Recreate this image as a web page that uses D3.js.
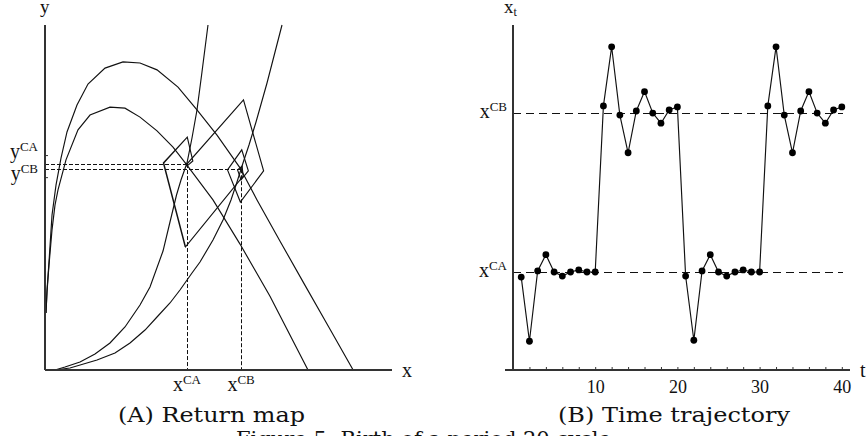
<!DOCTYPE html>
<html><head><meta charset="utf-8">
<script src="https://cdn.jsdelivr.net/npm/d3@7"></script>
<style>body{margin:0;background:#fff}svg{display:block}</style>
</head><body><svg id="c" width="866" height="436"></svg>
<script>
// ---------- data (panel A: return map, x/y in model units) ----------
const upperHump = [[0.29,16.5],[0.58,23.2],[1.15,31.3],[2.02,44.9],[3.17,53.6],[4.61,61.4],[6.34,69.0],[9.22,76.8],[12.39,82.9],[17.29,87.5],[22.48,89.3],[27.38,89.0],[32.28,87.0],[38.33,82.0],[43.80,75.4],[49.57,68.1],[56.20,58.6],[61.1,49.3],[67.7,37.4],[74.9,24.6],[82.1,11.9],[88.8,0]];
const lowerHump = [[0.29,16.5],[0.58,22.6],[1.15,30.4],[2.02,40.6],[2.88,47.8],[3.75,52.2],[6.05,60.9],[9.51,69.6],[12.97,73.9],[18.73,76.2],[23.05,75.9],[27.38,73.3],[32.28,69.3],[36.89,64.6],[40.92,59.4],[48.41,49.3],[56.20,36.5],[64.84,21.4],[75.79,0]];
const curveA = [[2.88,0],[5.76,0.87],[10.09,2.32],[14.41,4.64],[18.73,7.83],[23.05,12.46],[27.38,18.84],[30.26,24.06],[34.01,34.49],[36.02,42.90],[37.90,50.72],[39.19,55.07],[40.92,59.99],[42.36,67.25],[43.80,75.36],[45.24,86.38],[46.97,100]];
const curveB = [[2.88,0],[7.20,0.58],[14.99,2.90],[20.17,4.93],[24.50,7.83],[28.82,11.59],[32.28,15.36],[36.02,19.42],[38.90,23.19],[42.36,28.12],[44.67,31.30],[48.41,37.68],[51.30,43.48],[53.60,49.28],[55.33,54.49],[57.06,60.0],[58.79,65.22],[60.81,71.88],[63.98,83.19],[68.30,100]];
const xCA = 40.9, xCB = 56.5, yCA = 59.7, yCB = 58.2;
const yTickVals = [62.3, 55.9];
// trajectory (shared x_t values; y_t for the return map)
const tVals = d3.range(1, 41);
const xt = [40.4,34.1,41.0,42.6,40.9,40.5,40.9,41.1,40.9,40.9,57.2,63.0,56.3,52.6,56.7,58.6,56.5,55.5,56.8,57.1,
            40.5,34.2,41.0,42.6,40.9,40.5,40.9,41.1,40.9,40.9,57.2,63.0,56.3,52.6,56.7,58.6,56.5,55.5,56.8,57.1];
const yt = [35.7,60.0,67.5,60.6,59.1,60.0,59.4,59.9,59.6,59.7,78.3,57.7,48.7,58.0,63.8,57.7,55.1,58.0,59.1,56.2,
            35.7,60.0,67.5,60.6,59.1,60.0,59.4,59.9,59.6,59.7,78.3,57.7,48.7,58.0,63.8,57.7,55.1,58.0,59.1,56.2];
const tTicks = d3.range(2, 41, 2);
const tLabels = [10, 20, 30, 40];

// ---------- drawing ----------
const svg = d3.select('#c');
svg.append('rect').attr('width',866).attr('height',436).attr('fill','#fff');
const ink = '#111';
const serif = "'Liberation Serif','DejaVu Serif',serif";
const r5 = v => Math.round(v) + 0.5;

function supLabel(x, y, base, sup, anchor, size, supSize, raise, sub) {
  const t = svg.append('text').attr('x', x).attr('y', y).attr('text-anchor', anchor)
    .attr('font-family', serif).attr('fill', ink).attr('font-size', size);
  t.append('tspan').text(base);
  t.append('tspan').attr('font-size', supSize).attr('dy', sub ? raise : -raise).text(sup);
  return t;
}

// Panel A
const xA = d3.scaleLinear([0,100],[45,392]);
const yA = d3.scaleLinear([0,100],[370,25]);
const lineA = d3.line().x(d=>xA(d[0])).y(d=>yA(d[1]));
const gA = svg.append('g');
[upperHump, lowerHump, curveA, curveB].forEach(c=>{
  gA.append('path').attr('d', lineA(c)).attr('fill','none').attr('stroke',ink).attr('stroke-width',1.15);
});
gA.append('path').attr('d', lineA(d3.zip(xt, yt))).attr('fill','none').attr('stroke',ink).attr('stroke-width',1.15);
// dashed guides
const dash = '4,2';
function dline(g, x1, y1, x2, y2, da) {
  g.append('line').attr('x1',x1).attr('x2',x2).attr('y1',y1).attr('y2',y2)
    .attr('stroke',ink).attr('stroke-width',1).attr('stroke-dasharray',da);
}
dline(gA, xA(0), r5(yA(yCA)), xA(xCA), r5(yA(yCA)), dash);
dline(gA, xA(0), r5(yA(yCB)), xA(xCB), r5(yA(yCB)), dash);
dline(gA, r5(xA(xCA)), yA(yCA), r5(xA(xCA)), yA(0), dash);
dline(gA, r5(xA(xCB)), yA(yCB), r5(xA(xCB)), yA(0), dash);
// axes
gA.append('line').attr('x1',xA(0)).attr('x2',xA(0)).attr('y1',yA(100)).attr('y2',yA(0)).attr('stroke','#333').attr('stroke-width',2);
gA.append('line').attr('x1',xA(0)).attr('x2',xA(100)).attr('y1',yA(0)).attr('y2',yA(0)).attr('stroke','#333').attr('stroke-width',2);
const yAxisA = d3.axisLeft(yA).tickValues(yTickVals).tickSize(-3).tickFormat('');
const gyA = gA.append('g').attr('transform',`translate(${xA(0)},0)`).call(yAxisA);
gyA.select('.domain').remove();
gyA.selectAll('.tick line').attr('stroke','#333');
supLabel(38, yA(yTickVals[0])+3, 'y', 'CA', 'end', 20, 13, 7);
supLabel(38, yA(yTickVals[1])+3, 'y', 'CB', 'end', 20, 13, 7);
supLabel(xA(xCA), 391, 'x', 'CA', 'middle', 20, 13, 7);
supLabel(xA(xCB), 391, 'x', 'CB', 'middle', 20, 13, 7);
svg.append('text').attr('x',402).attr('y',377).attr('font-family',serif).attr('font-size',20).attr('fill',ink).text('x');
svg.append('text').attr('x',40).attr('y',13).attr('font-family',serif).attr('font-size',19).attr('fill',ink).text('y');

// Panel B
const tB = d3.scaleLinear([0,40],[513,841.8]);
const vB = d3.scaleLinear([31.28,65.14],[370,25]);
const gB = svg.append('g');
const dashB = '8,5';
dline(gB, tB(0), r5(vB(xCB)), 843, r5(vB(xCB)), dashB);
dline(gB, tB(0), r5(vB(xCA)), 843, r5(vB(xCA)), dashB);
const lineB = d3.line().x(d=>tB(d[0])).y(d=>vB(d[1]));
gB.append('path').attr('d', lineB(d3.zip(tVals, xt))).attr('fill','none').attr('stroke',ink).attr('stroke-width',1.15);
gB.selectAll('circle').data(d3.zip(tVals, xt)).join('circle')
  .attr('cx',d=>tB(d[0])).attr('cy',d=>vB(d[1])).attr('r',3.4).attr('fill','#000');
// axes
const xAxisB = d3.axisBottom(tB).tickValues(tTicks).tickSize(-3).tickPadding(10)
  .tickFormat(d => tLabels.includes(d) ? d : '');
const gxB = gB.append('g').attr('transform','translate(0,370)').call(xAxisB);
gxB.select('.domain').remove();
gxB.selectAll('.tick line').attr('stroke','#333');
gxB.selectAll('.tick text').attr('font-family',serif).attr('font-size',18).attr('fill',ink);
gB.append('line').attr('x1',505).attr('x2',850).attr('y1',370).attr('y2',370).attr('stroke','#333').attr('stroke-width',2);
gB.append('line').attr('x1',tB(0)).attr('x2',tB(0)).attr('y1',25).attr('y2',370).attr('stroke','#333').attr('stroke-width',2);
supLabel(507, vB(xCB)+5, 'x', 'CB', 'end', 20, 13, 7);
supLabel(507, vB(xCA)+5, 'x', 'CA', 'end', 20, 13, 7);
supLabel(504, 13, 'x', 't', 'start', 19, 12, 3, true);
svg.append('text').attr('x',860).attr('y',377).attr('font-family',serif).attr('font-size',20).attr('fill',ink).text('t');

// captions
const capFont = "'DejaVu Serif',serif";
svg.append('text').attr('x',118).attr('y',422).attr('font-family',capFont).attr('font-size',21).attr('fill','#111')
  .attr('textLength',187).attr('lengthAdjust','spacingAndGlyphs').text('(A) Return map');
svg.append('text').attr('x',558).attr('y',422).attr('font-family',capFont).attr('font-size',21).attr('fill','#111')
  .attr('textLength',232).attr('lengthAdjust','spacingAndGlyphs').text('(B) Time trajectory');
svg.append('text').attr('x',236).attr('y',446).attr('font-family',capFont).attr('font-size',21).attr('fill','#111')
  .text('Figure 5: Birth of a period 20 cycle');
</script></body></html>
